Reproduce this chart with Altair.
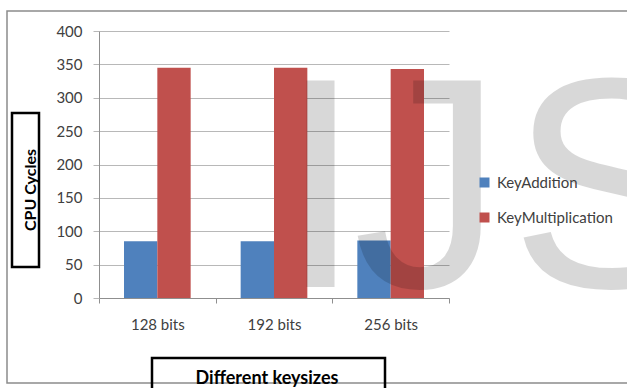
import altair as alt
import pandas as pd

# Chart data
keysizes = ["128 bits", "192 bits", "256 bits"]
series = ["KeyAddition", "KeyMultiplication"]
key_addition = [85, 85, 86]
key_multiplication = [345, 345, 343]
series_colors = ["#4F81BD", "#C0504D"]
y_ticks = [0, 50, 100, 150, 200, 250, 300, 350, 400]
watermark_letters = ["I", "J", "S"]

rows = []
for k, a, m in zip(keysizes, key_addition, key_multiplication):
    rows.append({"keysize": k, "series": series[0], "cycles": a})
    rows.append({"keysize": k, "series": series[1], "cycles": m})
df = pd.DataFrame(rows)

W, H = 350, 267
FONT = "Lato"
LABEL_SIZE = 15
one = pd.DataFrame({"t": [""]})

bars = alt.Chart(df).mark_bar(stroke=None).encode(
    x=alt.X(
        "keysize:N",
        sort=keysizes,
        scale=alt.Scale(paddingInner=0, paddingOuter=0),
        axis=alt.Axis(
            title=None, labelAngle=0, tickBand="extent", grid=False,
            tickSize=5, labelPadding=14, labelFontSize=LABEL_SIZE, labelFont=FONT,
            labelColor="#404040", domainColor="#8f8f8f", tickColor="#8f8f8f",
        ),
    ),
    xOffset=alt.XOffset(
        "series:N", sort=series,
        scale=alt.Scale(paddingInner=0, paddingOuter=0.75),
    ),
    y=alt.Y(
        "cycles:Q",
        scale=alt.Scale(domain=[0, 400], nice=False),
        axis=alt.Axis(
            title=None, values=y_ticks, tickSize=6, labelPadding=11,
            labelFontSize=LABEL_SIZE, labelFont=FONT, labelColor="#404040",
            gridColor="#b8b8b8", tickColor="#b8b8b8", domainColor="#8f8f8f",
        ),
    ),
    color=alt.Color(
        "series:N",
        sort=series,
        scale=alt.Scale(domain=series, range=series_colors),
        legend=alt.Legend(
            title=None, orient="none", legendX=378, legendY=144,
            symbolType="square", symbolSize=100, symbolStrokeWidth=0,
            labelFontSize=LABEL_SIZE, labelFont=FONT, labelColor="#404040",
            labelOffset=5, rowPadding=19, padding=0, labelLimit=300,
        ),
    ),
)

# Outer frame of the chart
frame = alt.Chart(one).mark_rect(filled=False, stroke="#8c8c8c", strokeWidth=1.5).encode(
    x=alt.value(-92), x2=alt.value(600), y=alt.value(-20), y2=alt.value(352)
)

# Boxed axis titles
y_box = alt.Chart(one).mark_rect(filled=False, stroke="#000000", strokeWidth=2.5).encode(
    x=alt.value(-87), x2=alt.value(-60), y=alt.value(82), y2=alt.value(236)
)
y_title = alt.Chart(pd.DataFrame({"t": ["CPU Cycles"]})).mark_text(
    angle=270, font=FONT, fontSize=16, fontWeight="bold", color="#000000",
    align="center", baseline="middle",
).encode(text="t:N", x=alt.value(-68), y=alt.value(159))

x_box = alt.Chart(one).mark_rect(filled=False, stroke="#000000", strokeWidth=2.5).encode(
    x=alt.value(53), x2=alt.value(286), y=alt.value(327), y2=alt.value(380)
)
x_title = alt.Chart(pd.DataFrame({"t": ["Different keysizes"]})).mark_text(
    font=FONT, fontSize=18, fontWeight="bold", color="#000000",
    align="center", baseline="alphabetic",
).encode(text="t:N", x=alt.value(168), y=alt.value(353))

# Translucent watermark lettering over the plot, one glyph per layer
def wm_letter(ch, xpos, align):
    return alt.Chart(pd.DataFrame({"t": [ch]})).mark_text(
        font="Liberation Sans", fontSize=300, color="#000000", opacity=0.15,
        align=align, baseline="alphabetic",
    ).encode(text="t:N", x=alt.value(xpos), y=alt.value(256))

wm_i = wm_letter(watermark_letters[0], 221.5, "center")
wm_j = wm_letter(watermark_letters[1], 404, "right")
wm_s = wm_letter(watermark_letters[2], 411, "left")

chart = alt.layer(frame, y_box, x_box, bars, y_title, x_title, wm_i, wm_j, wm_s).properties(
    width=W, height=H,
    autosize=alt.AutoSizeParams(type="none"),
    padding={"left": 99, "top": 31, "right": 178, "bottom": 90},
    background="#ffffff",
).configure_view(stroke=None)

chart.save("out.html", embed_options={"renderer": "svg", "actions": False})
